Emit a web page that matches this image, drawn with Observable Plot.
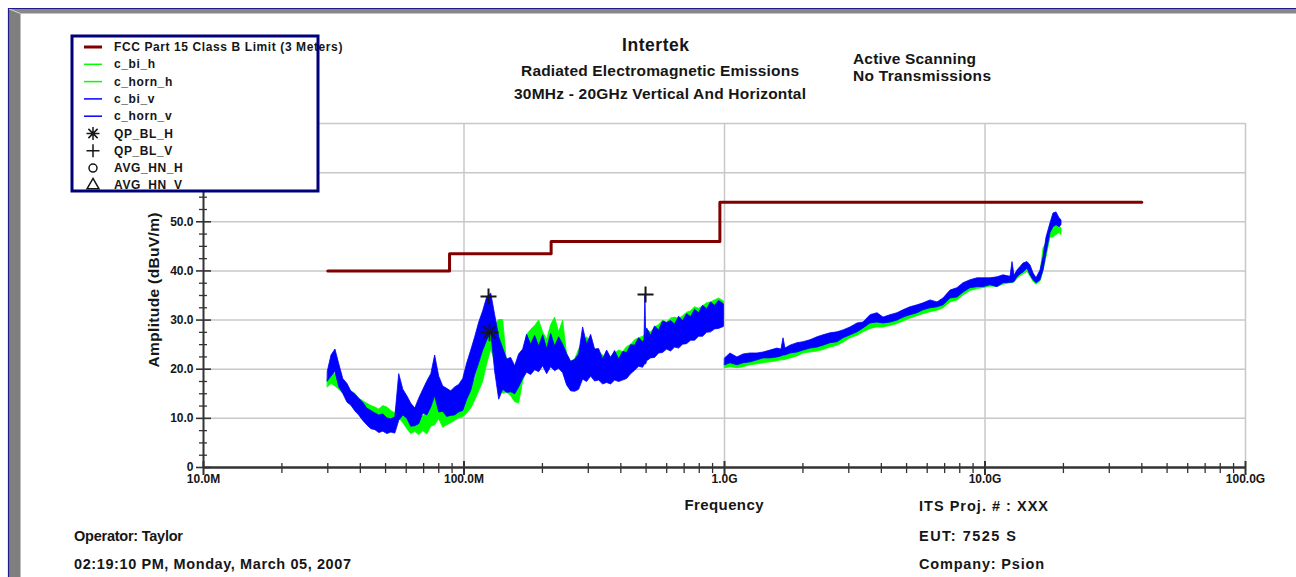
<!DOCTYPE html>
<html><head><meta charset="utf-8">
<script src="https://cdn.jsdelivr.net/npm/d3@7"></script>
<script src="https://cdn.jsdelivr.net/npm/@observablehq/plot@0.6"></script>
<style>
html,body{margin:0;padding:0;background:#fff;}
#wrap{position:relative;width:1296px;height:577px;overflow:hidden;background:#fff;}
#wrap svg{position:absolute;left:0;top:0;}
</style></head><body><div id="wrap"></div>
<script>
// ---------- DATA (frequency in MHz, level in dBuV/m) ----------
const limitFreq  = [30, 88, 216, 960, 40000];
const limitLevel = [40, 43.5, 46, 54, 54];

// biconical sweep (30 MHz - 1 GHz): min / max of trace per frequency bin
const biFreq = [30,31.0,32.1,33.2,34.4,35.7,36.9,38.3,39.6,41.0,
 42.5,44.1,45.7,47.3,49.0,50.8,52.6,54.5,56.4,58.5,
 60.6,62.7,65.0,67.3,69.8,72.3,74.9,77.5,80.3,83.2,
 86.2,89.3,92.5,95.8,99.3,102.9,106.6,110.4,114.4,118.5,
 122.7,127.2,131.7,136.5,141.4,146.4,151.7,157.2,162.8,168.7,
 174.7,181.0,187.5,194.3,201.3,208.5,216.0,223.8,231.8,240.2,
 248.8,257.7,267.0,276.6,286.6,296.9,307.6,318.6,330.1,342.0,
 354.3,367.0,380.2,393.9,408.1,422.7,438.0,453.7,470.0,486.9,
 493,497,501,
 504.4,522.6,541.4,560.8,581.0,601.9,623.5,646.0,669.2,693.3,
 718.2,744.1,770.8,798.6,827.3,857.1,887.9,919.8,952.9,995];

const biH_lo = [16.3,17.0,16.5,15.8,15.0,13.8,13.0,12.2,11.5,10.5,
 9.8,9.3,9.0,9.0,9.2,9.0,8.5,8.2,10.0,9.0,
 7.8,6.8,7.2,6.6,7.4,6.7,8.3,8.6,9.8,8.1,
 8.6,9.0,9.5,10.0,10.2,11.0,12.0,13.6,15.5,17.5,
 21.0,24.0,21.5,16.5,15.0,15.2,14.5,13.3,13.0,17.5,
 20.0,22.5,23.2,23.0,22.0,21.0,22.5,23.2,21.5,24.0,
 17.5,16.2,16.5,17.5,18.5,20.4,19.8,19.0,18.8,18.5,
 18.0,18.5,18.8,19.1,19.0,19.8,20.3,21.5,21.8,22.0,
 22.0,22.1,22.2,
 22.4,22.6,23.0,23.5,24.4,24.0,24.6,25.0,25.6,25.9,
 26.0,26.5,27.0,27.3,27.5,27.9,28.2,28.5,28.5,29.0];
const biH_hi = [18.0,19.2,19.0,18.0,17.5,16.0,15.5,15.0,14.0,13.5,
 13.0,12.5,12.2,11.8,12.5,12.2,11.5,11.0,14.3,12.5,
 11.2,10.5,10.0,9.8,10.5,11.0,12.5,15.2,15.0,12.8,
 12.0,12.4,13.2,13.8,14.3,15.6,16.2,18.0,21.0,23.5,
 27.9,29.3,29.0,30.0,30.0,21.0,19.0,17.5,16.8,23.0,
 27.0,28.0,28.8,29.9,27.5,26.0,29.0,30.5,27.5,29.9,
 23.0,21.5,22.0,24.0,25.0,26.5,25.5,24.0,23.5,22.8,
 22.0,22.5,23.2,23.8,23.5,24.5,25.0,25.9,26.3,26.6,
 26.8,27.0,27.2,
 28.0,27.5,28.5,29.0,29.9,29.5,30.3,30.5,30.2,30.8,
 31.5,31.8,32.6,32.3,32.8,33.4,33.6,34.0,34.4,33.8];

const biV_lo = [17.5,18.5,19.5,16.3,15.0,13.2,12.6,11.4,10.6,9.5,
 8.6,7.8,7.6,7.0,7.3,6.8,7.1,6.9,9.5,10.6,
 9.9,8.3,8.4,8.8,11.0,10.6,12.2,14.5,11.2,11.3,
 10.3,10.5,10.6,11.2,11.5,13.8,15.6,18.7,21.2,23.8,
 25.8,27.5,19.5,13.8,15.8,15.2,15.3,14.9,16.3,18.0,
 19.3,18.8,19.8,19.4,20.6,19.0,20.4,19.6,20.1,19.2,
 16.7,15.5,15.4,15.8,17.9,17.4,18.5,17.5,17.7,16.9,
 17.2,16.9,17.7,17.4,17.7,18.0,19.0,19.7,20.5,20.3,
 20.8,21.0,21.0,
 21.6,22.2,22.3,23.2,23.3,24.0,23.6,24.4,24.2,25.0,
 25.1,25.8,25.8,26.6,26.6,27.4,27.5,28.1,28.2,28.6];
const biV_hi = [19.5,22.8,24.0,21.0,18.0,17.0,15.5,14.8,14.0,13.2,
 12.0,11.5,11.0,10.6,10.8,10.0,9.8,10.2,19.0,15.8,
 14.5,13.0,12.0,14.0,15.8,17.5,19.0,22.8,18.5,16.5,
 16.0,15.5,16.3,16.8,18.0,21.2,23.8,26.5,29.5,31.8,
 34.6,35.4,31.0,26.5,24.2,22.0,22.3,20.6,23.0,24.0,
 27.0,25.0,26.8,24.6,26.9,24.1,27.2,24.6,26.5,25.0,
 23.1,21.5,21.9,23.0,28.5,25.0,27.0,24.0,24.1,22.0,
 23.8,22.3,23.7,22.0,23.5,23.3,24.9,24.8,26.3,25.5,
 26.0,35.2,25.8,
 28.3,26.8,28.7,27.9,29.7,29.4,29.8,29.1,30.7,29.8,
 31.2,30.6,32.1,31.4,32.9,32.2,33.6,32.9,33.9,33.2];

// horn sweep (1 GHz - 20 GHz)
const hornFreq = [1005,1054,1121,1183,1258,1338,1412,1502,1597,1655,
 1685,1714,1792,1906,2011,2138,2275,2399,2552,2715,
 2863,3045,3240,3417,3635,3867,4078,4338,4615,4866,
 5176,5507,5806,6177,6571,6929,7372,7842,8269,8797,
 9359,9868,10498,11168,11776,12528,12752,12980,13330,13687,
 14055,14560,14953,15356,15768,16336,16775,17226,17846,18323,
 18816,19321,19667];
const hornH_lo = [20.2,20.4,20.2,20.4,20.8,21.0,21.2,21.4,21.6,21.8,
 21.8,21.9,22.2,22.6,23.2,23.4,23.6,23.9,24.4,24.8,
 25.4,26.3,26.8,27.5,28.2,28.5,28.5,28.8,29.2,29.7,
 30.3,30.8,31.2,31.6,31.9,32.4,33.6,34.0,35.0,35.9,
 36.3,36.5,36.8,36.8,37.2,37.5,37.5,37.6,38.4,38.9,
 39.3,39.8,38.8,37.8,37.2,37.8,40.0,42.8,46.8,46.8,
 47.3,47.7,47.3];
const hornH_hi = [21.2,22.0,21.4,21.8,22.2,22.2,22.4,22.6,22.8,23.0,
 23.2,23.1,23.6,23.9,24.2,24.6,25.0,25.4,25.9,26.2,
 26.8,27.5,28.2,28.9,29.6,29.9,29.7,30.1,30.6,31.0,
 31.6,32.2,32.6,33.0,33.2,33.8,35.0,35.6,36.6,37.4,
 37.8,38.2,38.2,38.4,38.6,38.5,38.7,38.8,39.6,40.3,
 40.8,41.2,40.6,39.1,38.3,39.6,44.6,45.6,48.9,48.6,
 49.7,48.9,48.7];
const hornV_lo = [20.8,21.2,20.8,21.2,21.4,21.8,22.2,22.2,22.4,22.6,
 22.8,22.8,23.2,23.4,23.8,24.2,24.4,24.8,25.3,25.5,
 26.3,26.9,27.5,28.3,29.3,29.5,29.3,29.5,29.9,30.5,
 31.0,31.4,32.0,32.4,32.6,33.0,34.4,34.6,35.6,36.5,
 36.7,36.7,37.1,36.7,37.5,37.6,37.6,37.8,38.7,39.3,
 39.7,40.5,39.1,38.1,37.5,38.1,40.1,43.6,47.7,48.9,
 49.3,48.9,49.3];
const hornV_hi = [22.2,23.2,22.4,23.0,23.2,23.2,23.4,23.8,24.2,24.0,
 26.3,24.2,24.8,25.3,25.5,25.9,26.5,26.9,27.3,27.5,
 27.9,28.5,29.3,29.5,31.0,31.4,30.5,31.0,31.4,32.0,
 32.6,33.0,33.4,34.0,33.6,34.4,36.0,36.5,37.5,38.1,
 38.5,38.5,38.5,38.7,39.1,38.8,41.8,39.0,40.1,40.8,
 41.5,41.8,41.1,39.5,38.5,40.1,42.8,46.8,49.7,51.7,
 51.9,50.7,50.3];

// measured points
const qpH_freq = [125.3];        const qpH_level = [27.5];
const qpV_freq = [124.2, 497.6]; const qpV_level = [34.8, 35.2];
const avgH_freq = [];            const avgH_level = [];
const avgV_freq = [];            const avgV_level = [];

// ticks (labels for 60.0 and 70.0 sit behind the legend in the reference and are not shown)
const xTickValues = [10, 100, 1000, 10000, 100000];
const xTickLabels = ["10.0M", "100.0M", "1.0G", "10.0G", "100.0G"];
const xMinor = [20,30,40,50,60,70,80,90,200,300,400,500,600,700,800,900,
 2000,3000,4000,5000,6000,7000,8000,9000,20000,30000,40000,50000,60000,70000,80000,90000];
const yTickValues = [0, 10, 20, 30, 40, 50, 60, 70];
const yLabelValues = [0, 10, 20, 30, 40, 50];
const yTickLabels = ["0", "10.0", "20.0", "30.0", "40.0", "50.0"];
const yMinor = [2.5,5,7.5,12.5,15,17.5,22.5,25,27.5,32.5,35,37.5,42.5,45,47.5,52.5,55,57.5,62.5,65,67.5];
const xGridValues = [100, 1000, 10000, 100000];
const yGridValues = [10, 20, 30, 40, 50, 60, 70];

const legendNames = ["FCC Part 15 Class B Limit (3 Meters)", "c_bi_h", "c_horn_h", "c_bi_v", "c_horn_v",
  "QP_BL_H", "QP_BL_V", "AVG_HN_H", "AVG_HN_V"];

// ---------- BUILD ----------
const FONT = "'Liberation Sans', Arial, Helvetica, sans-serif";
const GREEN = "#00ff00", BLUE = "#0000ff", LIMIT = "#800000", INK = "#161616";
const rows = (f, lo, hi) => f.map((d, i) => ({f: d, lo: lo[i], hi: hi[i]}));
const pts = (f, v) => f.map((d, i) => ({f: d, v: v[i]}));
const biH = rows(biFreq, biH_lo, biH_hi), biV = rows(biFreq, biV_lo, biV_hi);
const hornH = rows(hornFreq, hornH_lo, hornH_hi), hornV = rows(hornFreq, hornV_lo, hornV_hi);
const limit = pts(limitFreq, limitLevel);

const asteriskSym = {draw(c, size) { const r = Math.sqrt(size / Math.PI), d = r * 0.7071;
  c.moveTo(-r, 0); c.lineTo(r, 0); c.moveTo(0, -r); c.lineTo(0, r);
  c.moveTo(-d, -d); c.lineTo(d, d); c.moveTo(-d, d); c.lineTo(d, -d); }};
const plusSym = {draw(c, size) { const r = Math.sqrt(size / Math.PI);
  c.moveTo(-r, 0); c.lineTo(r, 0); c.moveTo(0, -r); c.lineTo(0, r); }};

const W = 1296, H = 577, mT = 123, mR = 51, mB = 110, mL = 203;
const frameW = W - mL - mR, frameH = H - mT - mB;
const band = (data, color) => Plot.areaY(data, {x: "f", y1: "lo", y2: "hi", fill: color, stroke: color, strokeWidth: 0.8});

const chart = Plot.plot({
  width: W, height: H, marginTop: mT, marginRight: mR, marginBottom: mB, marginLeft: mL,
  style: {fontFamily: FONT, fontSize: "12px", fontWeight: "bold", color: INK, background: "transparent"},
  x: {type: "log", domain: [10, 100000], axis: null},
  y: {domain: [0, 70], axis: null},
  marks: [
    Plot.gridY(yGridValues, {stroke: "#c8c8c8", strokeOpacity: 1, strokeWidth: 1.5}),
    Plot.gridX(xGridValues, {stroke: "#c8c8c8", strokeOpacity: 1, strokeWidth: 1.5}),
    band(biH, GREEN), band(hornH, GREEN), band(biV, BLUE), band(hornV, BLUE),
    Plot.line(limit, {x: "f", y: "v", curve: "step-after", stroke: LIMIT, strokeWidth: 3}),
    Plot.ruleY([0], {stroke: "#333", strokeWidth: 2.5}),
    Plot.ruleX([10], {stroke: "#333", strokeWidth: 2}),
    Plot.tickX(xMinor, {x: d => d, stroke: "#333", strokeWidth: 1.3, insetTop: frameH - 4, insetBottom: -6}),
    Plot.tickX(xTickValues, {x: d => d, stroke: "#333", strokeWidth: 2, insetTop: frameH - 6, insetBottom: -8}),
    Plot.tickY(yMinor, {y: d => d, stroke: "#333", strokeWidth: 1.3, insetLeft: -4, insetRight: frameW - 4}),
    Plot.tickY(yTickValues, {y: d => d, stroke: "#333", strokeWidth: 1.6, insetLeft: -7, insetRight: frameW - 8}),
    Plot.axisX(xTickValues, {tickSize: 0, tickPadding: 7, label: null,
      tickFormat: d => xTickLabels[xTickValues.indexOf(d)]}),
    Plot.axisY(yLabelValues, {tickSize: 0, tickPadding: 10, label: null,
      tickFormat: d => yTickLabels[yLabelValues.indexOf(d)]}),
    Plot.dot(pts(qpH_freq, qpH_level), {x: "f", y: "v", symbol: asteriskSym, r: 9, fill: "none", stroke: INK, strokeWidth: 1.7}),
    Plot.dot(pts(qpV_freq, qpV_level), {x: "f", y: "v", symbol: plusSym, r: 8, fill: "none", stroke: INK, strokeWidth: 2}),
    Plot.dot(pts(avgH_freq, avgH_level), {x: "f", y: "v", symbol: "circle", r: 4, fill: "none", stroke: INK}),
    Plot.dot(pts(avgV_freq, avgV_level), {x: "f", y: "v", symbol: "triangle", r: 4.5, fill: "none", stroke: INK})
  ]
});
const wrap = document.getElementById("wrap");
wrap.appendChild(chart);

// ---------- OVERLAY: frame, titles, notes, legend ----------
const ov = d3.create("svg").attr("width", W).attr("height", H).attr("viewBox", `0 0 ${W} ${H}`)
  .style("overflow", "visible").style("font-family", FONT).style("font-weight", "bold");
ov.append("polygon").attr("points", "9,9 1296,9 1296,13.5 20.5,13.5").attr("fill", "#888888");
ov.append("polygon").attr("points", "9,9 20.5,13.5 20.5,577 9,577").attr("fill", "#7f7f7f");
ov.append("line").attr("x1", 9).attr("y1", 9).attr("x2", 20.5).attr("y2", 13.5).attr("stroke", "#d0d0d0").attr("stroke-width", 1);
ov.append("path").attr("d", "M8.5,577 V8.5 H1296").attr("fill", "none").attr("stroke", "#1c1c8a").attr("stroke-width", 1.2);

function txt(s, x, y, size, len, anchor = "start", rot = 0) {
  const t = ov.append("text").attr("transform", `translate(${x},${y}) rotate(${rot})`)
    .attr("text-anchor", anchor).attr("dominant-baseline", "central")
    .attr("font-size", size).attr("fill", INK).text(s);
  if (len) t.attr("textLength", len).attr("lengthAdjust", "spacing");
  return t;
}
txt("Intertek", 655.5, 44.5, 17.5, 67, "middle");
txt("Radiated Electromagnetic Emissions", 660, 70, 15.5, 278, "middle");
txt("30MHz - 20GHz Vertical And Horizontal", 660, 93, 15.5, 292, "middle");
txt("Active Scanning", 853, 58, 15.5, 123);
txt("No Transmissions", 853, 75, 15.5, 138);
txt("Frequency", 724, 504, 15, 79, "middle");
txt("Amplitude (dBuV/m)", 153.5, 290, 15.5, 155, "middle", -90);
txt("ITS Proj. # : XXX", 919, 506, 14.5, 129);
txt("EUT: 7525 S", 919, 536, 14.5, 97);
txt("Company: Psion", 919, 564, 14.5, 125);
txt("Operator: Taylor", 74, 536, 14.5, 109);
txt("02:19:10 PM, Monday, March 05, 2007", 74, 564, 14.5, 277);

// legend
const lg = ov.append("g");
lg.append("rect").attr("x", 72).attr("y", 36).attr("width", 246).attr("height", 155).attr("fill", "#fff");
const lineStyles = [[LIMIT, 3], [GREEN, 1.5], [GREEN, 1.5], [BLUE, 1.5], [BLUE, 1.5]];
const symStyles = [[asteriskSym, Math.PI * 6.5 * 6.5], [plusSym, Math.PI * 6.5 * 6.5], [d3.symbolCircle, Math.PI * 16], [d3.symbolTriangle, 62]];
legendNames.forEach((name, i) => {
  const cy = 47 + 17.3 * i;
  if (i < 5) {
    lg.append("line").attr("x1", 84).attr("x2", 102).attr("y1", cy).attr("y2", cy)
      .attr("stroke", lineStyles[i][0]).attr("stroke-width", lineStyles[i][1]);
  } else {
    const [type, size] = symStyles[i - 5];
    lg.append("path").attr("transform", `translate(93,${cy})`).attr("d", d3.symbol(type, size)())
      .attr("fill", "none").attr("stroke", INK).attr("stroke-width", 1.5);
  }
  lg.append("text").attr("x", 114).attr("y", cy).attr("dominant-baseline", "central")
    .attr("font-size", 12).attr("letter-spacing", 0.6).attr("fill", INK).text(name);
});
lg.append("rect").attr("x", 72).attr("y", 36).attr("width", 246).attr("height", 155)
  .attr("fill", "none").attr("stroke", "#00007a").attr("stroke-width", 3);

wrap.appendChild(ov.node());
</script></body></html>
